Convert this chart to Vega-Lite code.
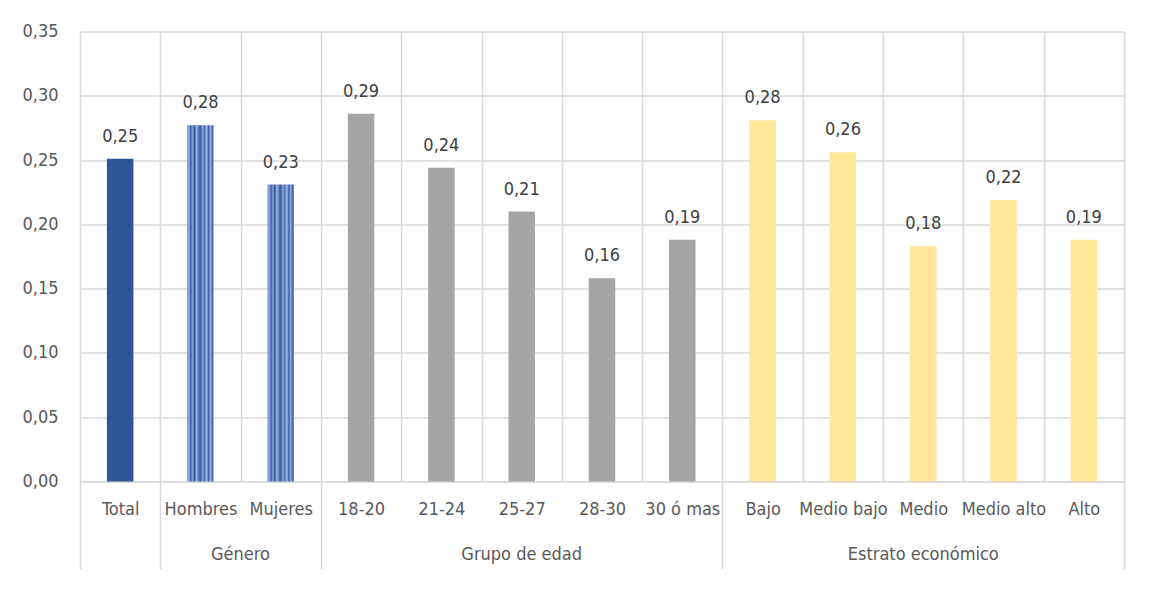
{
  "$schema": "https://vega.github.io/schema/vega-lite/v6.json",
  "autosize": {"type": "none"},
  "width": 1044,
  "height": 450,
  "padding": {"left": 80, "top": 31.5, "right": 35, "bottom": 120.5},
  "background": "white",
  "config": {
    "locale": {"number": {"decimal": ",", "thousands": ".", "grouping": [3], "currency": ["", " €"]}},
    "view": {"stroke": null},
    "font": "DejaVu Sans Condensed, Roboto, sans-serif",
    "axis": {
      "labelFont": "DejaVu Sans Condensed, Roboto, sans-serif",
      "labelFontSize": 18,
      "labelColor": "#595959",
      "gridColor": "#d9d9d9",
      "gridWidth": 1.5,
      "domainColor": "#d9d9d9",
      "tickColor": "#d9d9d9",
      "title": null
    }
  },
  "data": {
    "values": [
      {"categoria": "Total", "grupo": "Total", "valor": 0.251},
      {"categoria": "Hombres", "grupo": "Género", "valor": 0.277},
      {"categoria": "Mujeres", "grupo": "Género", "valor": 0.231},
      {"categoria": "18-20", "grupo": "Grupo de edad", "valor": 0.286},
      {"categoria": "21-24", "grupo": "Grupo de edad", "valor": 0.244},
      {"categoria": "25-27", "grupo": "Grupo de edad", "valor": 0.21},
      {"categoria": "28-30", "grupo": "Grupo de edad", "valor": 0.158},
      {"categoria": "30 ó mas", "grupo": "Grupo de edad", "valor": 0.188},
      {"categoria": "Bajo", "grupo": "Estrato económico", "valor": 0.281},
      {"categoria": "Medio bajo", "grupo": "Estrato económico", "valor": 0.256},
      {"categoria": "Medio", "grupo": "Estrato económico", "valor": 0.183},
      {"categoria": "Medio alto", "grupo": "Estrato económico", "valor": 0.219},
      {"categoria": "Alto", "grupo": "Estrato económico", "valor": 0.188}
    ]
  },
  "layer": [
    {
      "mark": {"type": "bar", "width": {"band": 0.33}},
      "encoding": {
        "x": {
          "field": "categoria",
          "type": "nominal",
          "sort": null,
          "scale": {"paddingInner": 0, "paddingOuter": 0},
          "axis": {
            "orient": "bottom",
            "labelAngle": 0,
            "labelOverlap": false,
            "tickBand": "extent",
            "grid": true,
            "domainWidth": 1.5,
            "tickWidth": 1.5,
            "tickSize": 87,
            "tickColor": {
              "condition": {
                "test": "!datum.value || datum.value === 'Total' || datum.value === 'Mujeres' || datum.value === '30 ó mas' || datum.value === 'Alto'",
                "value": "#d9d9d9"
              },
              "value": "transparent"
            },
            "labelPadding": -68
          }
        },
        "y": {
          "field": "valor",
          "type": "quantitative",
          "scale": {"domain": [0, 0.35]},
          "axis": {
            "values": [0, 0.05, 0.1, 0.15, 0.2, 0.25, 0.3, 0.35],
            "format": ".2f",
            "domain": false,
            "ticks": false,
            "grid": true,
            "labelPadding": 22
          }
        },
        "color": {
          "condition": {
            "test": "datum.grupo === 'Género'",
            "value": {
              "gradient": "linear",
              "x1": 0, "y1": 0, "x2": 1, "y2": 0,
              "stops": [
                {"offset": 0, "color": "#5f7fc0"},
                {"offset": 0.06, "color": "#9db6e4"},
                {"offset": 0.13, "color": "#3d5fa3"},
                {"offset": 0.21, "color": "#8aa6dc"},
                {"offset": 0.27, "color": "#2f4f8f"},
                {"offset": 0.36, "color": "#a3bbe8"},
                {"offset": 0.43, "color": "#5576b8"},
                {"offset": 0.5, "color": "#365a9e"},
                {"offset": 0.58, "color": "#87a3d8"},
                {"offset": 0.66, "color": "#4b6db1"},
                {"offset": 0.73, "color": "#a9c0ea"},
                {"offset": 0.81, "color": "#3a5b9f"},
                {"offset": 0.88, "color": "#9fb8e6"},
                {"offset": 0.94, "color": "#3f61a6"},
                {"offset": 1, "color": "#7895d0"}
              ]
            }
          },
          "field": "grupo",
          "type": "nominal",
          "scale": {
            "domain": ["Total", "Género", "Grupo de edad", "Estrato económico"],
            "range": ["#2f5597", "#6f8fcf", "#a5a5a5", "#ffe699"]
          },
          "legend": null
        }
      }
    },
    {
      "mark": {"type": "text", "baseline": "alphabetic", "dy": -17, "fontSize": 18, "font": "DejaVu Sans Condensed, Roboto, sans-serif", "color": "#404040"},
      "encoding": {
        "x": {
          "field": "categoria",
          "type": "nominal",
          "sort": null,
          "axis": {
            "orient": "bottom",
            "labelAngle": 0,
            "labelOverlap": false,
            "ticks": false,
            "domain": false,
            "grid": false,
            "labelPadding": 64,
            "labelExpr": "datum.value === 'Hombres' ? 'Género' : datum.value === '25-27' ? 'Grupo de edad' : datum.value === 'Medio' ? 'Estrato económico' : ''",
            "labelOffset": {"condition": {"test": "datum.value === 'Hombres'", "value": 40}, "value": 0}
          }
        },
        "y": {"field": "valor", "type": "quantitative"},
        "text": {"field": "valor", "type": "quantitative", "format": ".2f"}
      }
    }
  ],
  "resolve": {"axis": {"x": "independent"}}
}
